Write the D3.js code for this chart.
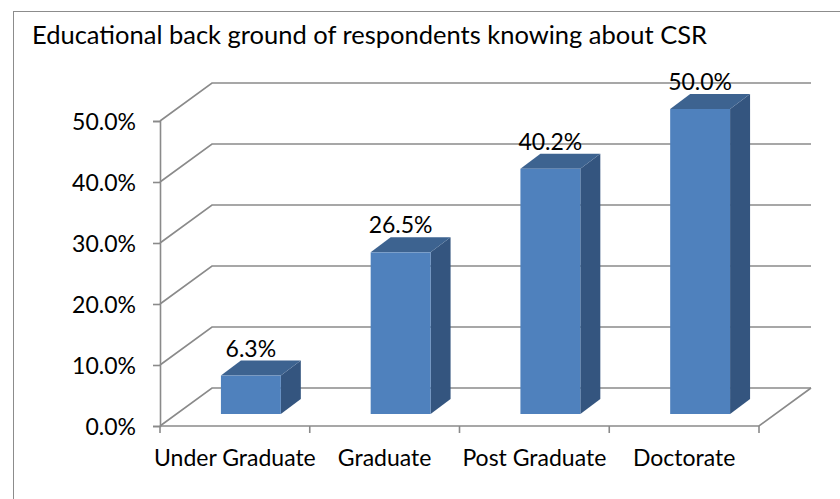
<!DOCTYPE html>
<html>
<head>
<meta charset="utf-8">
<script src="https://cdn.jsdelivr.net/npm/d3@7/dist/d3.min.js"></script>
<style>
  html, body { margin: 0; padding: 0; background: #fff; }
  svg { display: block; }
  text { font-family: Lato, "Open Sans", sans-serif; fill: #000; }
</style>
</head>
<body>
<svg id="chart" width="840" height="499"></svg>
<script>
// Chart data
const title = "Educational back ground of respondents knowing about CSR";
const categories = ["Under Graduate", "Graduate", "Post Graduate", "Doctorate"];
const values = [0.063, 0.265, 0.402, 0.500];
const tickValues = [0, 0.1, 0.2, 0.3, 0.4, 0.5];

const svg = d3.select("#chart");
const W = 840, H = 499;

// Plot frame (front plane)
const x0 = 160, x1 = 759, yBottom = 426, yTop = 121;
// Wall depth offset (front plane -> back wall)
const wallDX = 52, wallDY = -38;
// Bar placement within the depth and bar thickness
const barOffX = 16, barOffY = -12;
const barDX = 20, barDY = -15;

const gridColor = "#8a8a8a";

const x = d3.scaleBand().domain(categories).range([x0, x1])
  .paddingInner(0.6).paddingOuter(0.3);
const xTicks = d3.scalePoint().domain(d3.range(categories.length + 1)).range([x0, x1]);
const y = d3.scaleLinear().domain([0, 0.5]).range([yBottom, yTop]);
const pct = d3.format(".1%");

// Outer border
svg.append("rect")
  .attr("x", 13.5).attr("y", 11.5)
  .attr("width", W).attr("height", H)
  .attr("fill", "none").attr("stroke", "#8c8c8c").attr("stroke-width", 1);

// Title
svg.append("text")
  .attr("x", 32).attr("y", 44)
  .style("font-size", "25.5px")
  .text(title);

// Walls: side-wall diagonals + back-wall gridlines
const walls = svg.append("g").attr("fill", "none")
  .attr("stroke", gridColor).attr("stroke-width", 1.6);
tickValues.forEach(v => {
  const yy = y(v);
  walls.append("path")
    .attr("d", `M${x0},${yy}L${x0 + wallDX},${yy + wallDY}L${x1 + wallDX},${yy + wallDY}`);
});
// Floor: right diagonal and front edge
walls.append("path")
  .attr("d", `M${x0},${yBottom}L${x1},${yBottom}L${x1 + wallDX},${yBottom + wallDY}`);

// Vertical axis
const yAxis = d3.axisLeft(y).tickValues(tickValues).tickFormat(pct).tickSize(7).tickPadding(17);
const gy = svg.append("g").attr("transform", `translate(${x0},0)`).call(yAxis);
gy.select(".domain").attr("stroke", gridColor).attr("stroke-width", 1.6);
gy.selectAll(".tick line").attr("stroke", gridColor).attr("stroke-width", 1.6);
gy.selectAll(".tick text").style("font-size", "23px").attr("fill", "#000")
  .attr("font-family", null).attr("dy", "0.36em");

// Category axis
const gx = svg.append("g").attr("transform", `translate(0,${yBottom})`);
gx.selectAll("line").data(xTicks.domain()).join("line")
  .attr("x1", d => xTicks(d)).attr("x2", d => xTicks(d))
  .attr("y1", 0).attr("y2", 7)
  .attr("stroke", gridColor).attr("stroke-width", 1.6);
gx.selectAll("text").data(categories).join("text")
  .attr("x", d => x(d) + x.bandwidth() / 2)
  .attr("y", 40)
  .attr("text-anchor", "middle")
  .style("font-size", "23px")
  .text(d => d);

// 3D bars
const bars = svg.append("g");
const yBar = v => y(v) + barOffY;
categories.forEach((c, i) => {
  const v = values[i];
  const left = x(c) + barOffX, right = left + x.bandwidth();
  const top = yBar(v), bottom = yBar(0);
  const g = bars.append("g");
  // side face
  g.append("path")
    .attr("d", `M${right},${top}L${right + barDX},${top + barDY}L${right + barDX},${bottom + barDY}L${right},${bottom}Z`)
    .attr("fill", "#34557f");
  // top face
  g.append("path")
    .attr("d", `M${left},${top}L${left + barDX},${top + barDY}L${right + barDX},${top + barDY}L${right},${top}Z`)
    .attr("fill", "#3d6390");
  // front face
  g.append("rect")
    .attr("x", left).attr("y", top)
    .attr("width", right - left).attr("height", bottom - top)
    .attr("fill", "#4f81bd");
  // value label
  g.append("text")
    .attr("x", (left + right) / 2)
    .attr("y", top - 19)
    .attr("text-anchor", "middle")
    .style("font-size", "23px")
    .text(pct(v));
});
</script>
</body>
</html>
